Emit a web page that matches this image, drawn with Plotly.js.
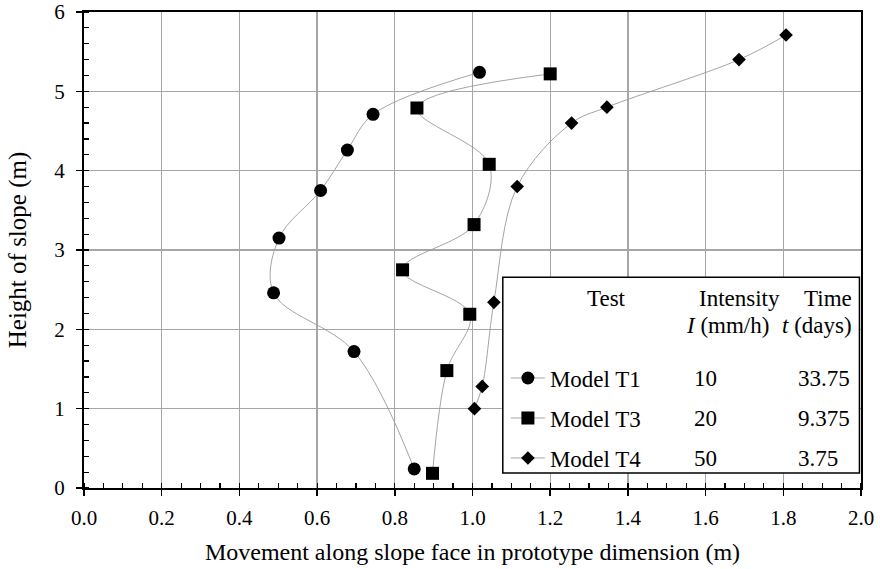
<!DOCTYPE html>
<html>
<head>
<meta charset="utf-8">
<script src="https://cdn.plot.ly/plotly-3.0.1.min.js"></script>
<style>html,body{margin:0;padding:0;background:#fff;}#chart{width:880px;height:569px;}</style>
</head>
<body>
<div id="chart"></div>
<script>
// Data
const seriesNames = ["Model T1", "Model T3", "Model T4"];
const intensity = ["10", "20", "50"];
const timeDays = ["33.75", "9.375", "3.75"];

const t1X = [0.85, 0.695, 0.488, 0.502, 0.609, 0.678, 0.744, 1.018];
const t1Y = [0.24, 1.72, 2.46, 3.15, 3.75, 4.26, 4.71, 5.24];

const t3X = [0.897, 0.934, 0.993, 0.82, 1.004, 1.043, 0.857, 1.2];
const t3Y = [0.185, 1.48, 2.19, 2.75, 3.32, 4.08, 4.79, 5.22];

const t4X = [1.005, 1.025, 1.055, 1.115, 1.255, 1.346, 1.686, 1.807];
const t4Y = [1.0, 1.28, 2.34, 3.8, 4.6, 4.8, 5.4, 5.71];

const FONT = "'Liberation Serif', 'Times New Roman', Times, serif";
const lineStyle = {color: "#9a9a9a", width: 0.9, shape: "spline", smoothing: 1};

function mk(x, y, name, symbol, size, legendId) {
  return {
    x: x, y: y, name: name, type: "scatter", mode: "lines+markers",
    line: lineStyle,
    marker: {symbol: symbol, size: size, color: "#000"},
    legend: legendId, showlegend: true, hoverinfo: "x+y"
  };
}

const traces = [
  mk(t1X, t1Y, seriesNames[0], "circle", 13, "legend"),
  mk(t3X, t3Y, seriesNames[1], "square", 13, "legend2"),
  mk(t4X, t4Y, seriesNames[2], "diamond", 10.5, "legend3")
];

const legFont = {family: FONT, size: 23, color: "#000"};
function legendAt(y) {
  return {x: 0.543, xanchor: "left", y: y, yanchor: "middle", bgcolor: "rgba(0,0,0,0)",
          borderwidth: 0, font: legFont, itemwidth: 34, itemclick: false, itemdoubleclick: false};
}

const rowY = [0.231, 0.147, 0.063];
const annFont = {family: FONT, size: 23, color: "#000"};
const annotations = [
  {text: "Test", x: 0.673, y: 0.399, xanchor: "center", yanchor: "middle"},
  {text: "Intensity", x: 0.844, y: 0.399, xanchor: "center", yanchor: "middle"},
  {text: "Time", x: 0.991, y: 0.399, xanchor: "right", yanchor: "middle"},
  {text: "<i>I</i> (mm/h)", x: 0.828, y: 0.342, xanchor: "center", yanchor: "middle"},
  {text: "<i>t</i> (days)", x: 0.991, y: 0.342, xanchor: "right", yanchor: "middle"}
];
for (let i = 0; i < 3; i++) {
  annotations.push({text: intensity[i], x: 0.782, y: rowY[i], xanchor: "left", yanchor: "middle"});
  annotations.push({text: timeDays[i], x: 0.916, y: rowY[i], xanchor: "left", yanchor: "middle"});
}
annotations.forEach(a => { a.xref = "paper"; a.yref = "paper"; a.showarrow = false; a.font = annFont; });

const axisCommon = {
  showline: true, linecolor: "#000", linewidth: 2, mirror: true,
  showgrid: true, gridcolor: "#a6a6a6", gridwidth: 1.3,
  zeroline: false,
  ticks: "outside", ticklen: 6, tickwidth: 1.5, tickcolor: "#000",
  tickfont: {family: FONT, size: 21, color: "#000"},
  fixedrange: true
};

const layout = {
  width: 880, height: 569,
  margin: {l: 84, r: 19, t: 12, b: 81},
  paper_bgcolor: "#fff", plot_bgcolor: "#fff",
  font: {family: FONT, color: "#000"},
  xaxis: Object.assign({}, axisCommon, {
    range: [0, 2], dtick: 0.2, tick0: 0, tickformat: ".1f", ticklabelstandoff: 4,
    minor: {dtick: 0.05, ticks: "inside", ticklen: 5, tickwidth: 1.2, tickcolor: "#000", showgrid: false},
    title: {text: "Movement along slope face in prototype dimension (m)", font: {family: FONT, size: 24, color: "#000"}, standoff: 14}
  }),
  yaxis: Object.assign({}, axisCommon, {
    range: [0, 6], dtick: 1, tick0: 0, ticklabelstandoff: 7,
    minor: {dtick: 0.2, ticks: "inside", ticklen: 5, tickwidth: 1.2, tickcolor: "#000", showgrid: false},
    title: {text: "Height of slope (m)", font: {family: FONT, size: 25, color: "#000"}, standoff: 21}
  }),
  shapes: [{
    type: "rect", xref: "paper", yref: "paper", x0: 0.539, x1: 0.998, y0: 0.0315, y1: 0.443,
    line: {color: "#000", width: 1.5}, fillcolor: "#fff", layer: "above"
  }],
  annotations: annotations,
  legend: legendAt(rowY[0]),
  legend2: legendAt(rowY[1]),
  legend3: legendAt(rowY[2])
};

Plotly.newPlot("chart", traces, layout, {displayModeBar: false, staticPlot: true});
</script>
</body>
</html>
